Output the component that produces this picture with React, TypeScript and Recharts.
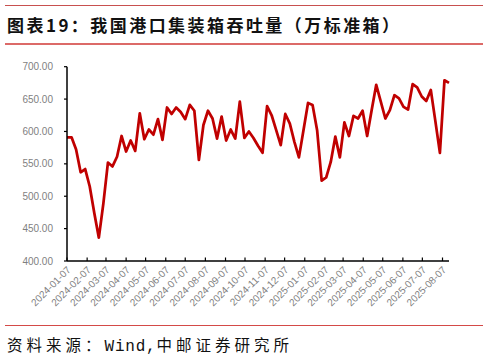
import React from "react";
import { LineChart, Line, XAxis, YAxis } from "recharts";

// Weekly dates (categories)
const weekDates: string[] = [
  "2024-01-07", "2024-01-14", "2024-01-21", "2024-01-28",
  "2024-02-04", "2024-02-11", "2024-02-18", "2024-02-25",
  "2024-03-03", "2024-03-10", "2024-03-17", "2024-03-24", "2024-03-31",
  "2024-04-07", "2024-04-14", "2024-04-21", "2024-04-28",
  "2024-05-05", "2024-05-12", "2024-05-19", "2024-05-26",
  "2024-06-02", "2024-06-09", "2024-06-16", "2024-06-23", "2024-06-30",
  "2024-07-07", "2024-07-14", "2024-07-21", "2024-07-28",
  "2024-08-04", "2024-08-11", "2024-08-18", "2024-08-25",
  "2024-09-01", "2024-09-08", "2024-09-15", "2024-09-22", "2024-09-29",
  "2024-10-06", "2024-10-13", "2024-10-20", "2024-10-27",
  "2024-11-03", "2024-11-10", "2024-11-17", "2024-11-24",
  "2024-12-01", "2024-12-08", "2024-12-15", "2024-12-22", "2024-12-29",
  "2025-01-05", "2025-01-12", "2025-01-19", "2025-01-26",
  "2025-02-02", "2025-02-09", "2025-02-16", "2025-02-23",
  "2025-03-02", "2025-03-09", "2025-03-16", "2025-03-23", "2025-03-30",
  "2025-04-06", "2025-04-13", "2025-04-20", "2025-04-27",
  "2025-05-04", "2025-05-11", "2025-05-18", "2025-05-25",
  "2025-06-01", "2025-06-08", "2025-06-15", "2025-06-22", "2025-06-29",
  "2025-07-06", "2025-07-13", "2025-07-20", "2025-07-27",
  "2025-08-03", "2025-08-10", "2025-08-17",
];

// Port container throughput (10k TEU)
const throughput: number[] = [
  591, 591, 572, 537, 542, 515, 474, 436, 489, 552,
  546, 561, 593, 569, 586, 570, 628, 588, 603, 595,
  619, 587, 637, 627, 637, 630, 619, 641, 632, 556,
  610, 632, 620, 589, 623, 586, 603, 589, 646, 590,
  600, 590, 578, 567, 639, 625, 602, 579, 627, 612,
  584, 560, 602, 644, 641, 602, 524, 529, 553, 592,
  560, 614, 593, 624, 620, 632, 593, 633, 672, 646,
  620, 633, 656, 651, 638, 634, 673, 668, 654, 647,
  664, 616, 567, 679, 675,
];

// X-axis tick labels (monthly)
const xTickLabels: string[] = [
  "2024-01-07", "2024-02-07", "2024-03-07", "2024-04-07", "2024-05-07",
  "2024-06-07", "2024-07-07", "2024-08-07", "2024-09-07", "2024-10-07",
  "2024-11-07", "2024-12-07", "2025-01-07", "2025-02-07", "2025-03-07",
  "2025-04-07", "2025-05-07", "2025-06-07", "2025-07-07", "2025-08-07",
];

const yTicks: number[] = [400, 450, 500, 550, 600, 650, 700];

const data = weekDates.map((d, i) => ({ t: Date.parse(d), v: throughput[i] }));
const xTicks = xTickLabels.map((s) => Date.parse(s));
const labelOf: Record<number, string> = {};
xTickLabels.forEach((s, i) => (labelOf[xTicks[i]] = s));

const XTick = (props: any) => {
  const { x, y, payload } = props;
  const lab = labelOf[payload.value] ?? "";
  const ax = x + 2;
  const ay = y + 7;
  return (
    <g>
      <line x1={x} y1={y} x2={x} y2={y - 3.5} stroke="#000" strokeWidth={1.2} />
      <text
        x={ax}
        y={ay}
        dy="0.35em"
        textAnchor="end"
        transform={`rotate(-45, ${ax}, ${ay})`}
        fill="#7f7f7f"
        fontSize={10}
        fontFamily="'Liberation Sans', Arial, sans-serif"
      >
        {lab}
      </text>
    </g>
  );
};

export default function App() {
  return (
    <div
      style={{
        position: "fixed",
        left: 0,
        top: 0,
        width: 489,
        height: 360,
        background: "#fff",
        overflow: "hidden",
      }}
    >
      <div style={{ position: "absolute", left: 5, top: 4.5, width: 478, height: 1.3, background: "#c8504f" }} />
      <div
        style={{
          position: "absolute",
          left: 7,
          top: 16,
          fontFamily: "'Noto Sans CJK SC', sans-serif",
          fontWeight: 700,
          fontSize: 17,
          lineHeight: "17px",
          letterSpacing: 2.45,
          color: "#111",
          whiteSpace: "nowrap",
        }}
      >
        图表19：我国港口集装箱吞吐量（万标准箱）
      </div>
      <div style={{ position: "absolute", left: 5, top: 42.5, width: 478, height: 2, background: "#dc6a68" }} />

      <div style={{ position: "absolute", left: 0, top: 0 }}>
        <LineChart
          width={489}
          height={320}
          data={data}
          margin={{ top: 66.7, right: 40, bottom: 4, left: 0 }}
        >
          <XAxis
            dataKey="t"
            type="number"
            scale="linear"
            domain={[data[0].t, data[data.length - 1].t]}
            ticks={xTicks}
            interval={0}
            tick={<XTick />}
            tickLine={false}
            tickSize={0}
            tickMargin={0}
            height={55}
            axisLine={{ stroke: "#000", strokeWidth: 1.5 }}
          />
          <YAxis
            type="number"
            domain={[400, 700]}
            ticks={yTicks}
            interval={0}
            width={67}
            tickFormatter={(v: number) => v.toFixed(2)}
            tick={{ fill: "#7f7f7f", fontSize: 10, fontFamily: "'Liberation Sans', Arial, sans-serif" }}
            tickSize={3}
            tickMargin={11}
            tickLine={{ stroke: "#000", strokeWidth: 1.2 }}
            axisLine={{ stroke: "#000", strokeWidth: 1.5 }}
          />
          <Line
            type="linear"
            dataKey="v"
            stroke="#c00000"
            strokeWidth={2.75}
            strokeLinejoin="round"
            dot={false}
            activeDot={false}
            isAnimationActive={false}
          />
        </LineChart>
      </div>

      <div style={{ position: "absolute", left: 5, top: 324.5, width: 478, height: 1.5, background: "#d44a48" }} />
      <div
        style={{
          position: "absolute",
          left: 7,
          top: 336,
          fontFamily: "'Noto Sans CJK SC', sans-serif",
          fontWeight: 400,
          fontSize: 15.5,
          lineHeight: "16px",
          letterSpacing: 4,
          color: "#111",
          whiteSpace: "nowrap",
        }}
      >
        资料来源：
        <span style={{ fontFamily: "'Liberation Mono', monospace", fontSize: 16, letterSpacing: 0.8 }}>Wind,</span>
        中邮证券研究所
      </div>
    </div>
  );
}
